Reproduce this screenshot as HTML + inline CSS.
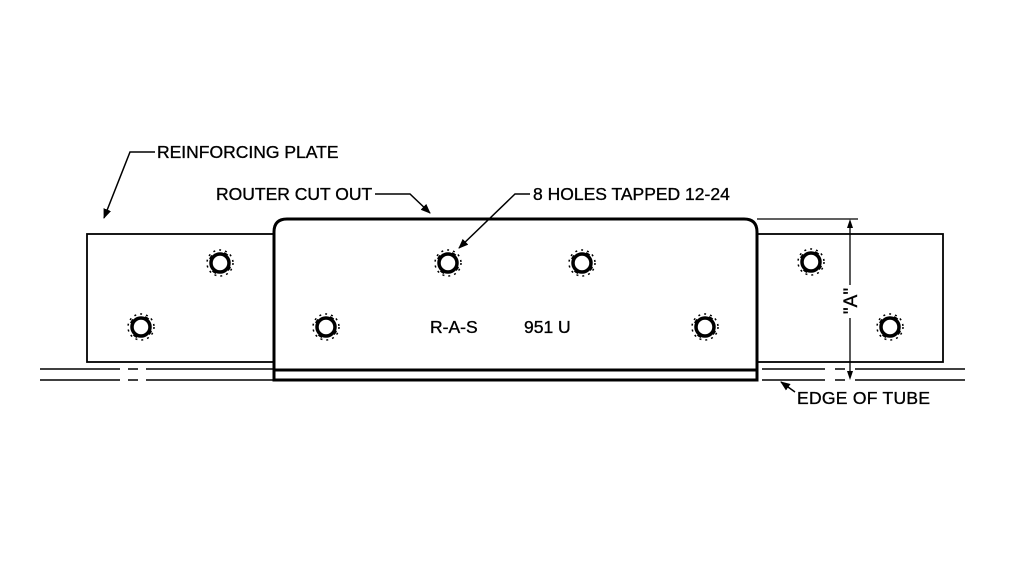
<!DOCTYPE html>
<html><head><style>body{margin:0;background:#fff}svg{display:block}text{font-family:"Liberation Sans",Arial,sans-serif;font-size:17.5px;fill:#000;stroke:#000;stroke-width:0.35}</style></head><body>
<svg width="1024" height="566" viewBox="0 0 1024 566" xmlns="http://www.w3.org/2000/svg">
<defs>
<marker id="ar" markerWidth="10" markerHeight="8" refX="9" refY="4" orient="auto" markerUnits="userSpaceOnUse"><path d="M0,0 L10,4 L0,8 Z" fill="#000"/></marker>
<g id="h"><circle r="9" fill="none" stroke="#000" stroke-width="3.5"/><circle r="10" fill="none" stroke="#000" stroke-width="3.5" stroke-dasharray="4 11.7" transform="rotate(20)"/><circle r="13" fill="none" stroke="#000" stroke-width="1.5" stroke-dasharray="2 4"/></g>
</defs>
<g stroke="#000" fill="none">
<rect x="87" y="234" width="856" height="128" stroke-width="1.8"/>
<path d="M40 369H120M128 369H138M146 369H274M762 369H825M835 369H845M855 369H965" stroke-width="1.5"/>
<path d="M40 380H120M128 380H138M146 380H274M762 380H825M835 380H845M855 380H965" stroke-width="1.5"/>
<path d="M274 380V232Q274 219 287 219H744Q757 219 757 232V380Z" stroke-width="3" fill="#fff"/>
<path d="M274 370H757" stroke-width="3"/>
<path d="M757 219H858" stroke-width="1.3"/>
<path d="M850 222V285M850 318V377" stroke-width="1.3"/>
<path d="M850 219l-3 9h6z M850 380l-3 -9h6z" fill="#000" stroke="none"/>
<path d="M155 152H130L104 218" stroke-width="1.5" marker-end="url(#ar)"/>
<path d="M375 194H410L430 213" stroke-width="1.5" marker-end="url(#ar)"/>
<path d="M530 194H515L459 248" stroke-width="1.5" marker-end="url(#ar)"/>
<path d="M795 392L781 382" stroke-width="1.5" marker-end="url(#ar)"/>
</g>
<use href="#h" x="220" y="263"/><use href="#h" x="141" y="327"/><use href="#h" x="326" y="327"/><use href="#h" x="448" y="263"/><use href="#h" x="582" y="263"/><use href="#h" x="705" y="327"/><use href="#h" x="811" y="262"/><use href="#h" x="890" y="327"/>
<text x="157" y="158">REINFORCING PLATE</text>
<text x="216" y="200">ROUTER CUT OUT</text>
<text x="533" y="200">8 HOLES TAPPED 12-24</text>
<text x="797" y="404" textLength="133">EDGE OF TUBE</text>
<text x="430" y="333">R-A-S</text>
<text x="524" y="333">951 U</text>
<text transform="translate(857,301) rotate(-90)" text-anchor="middle" style="font-size:19px">"A"</text>
</svg>
</body></html>
